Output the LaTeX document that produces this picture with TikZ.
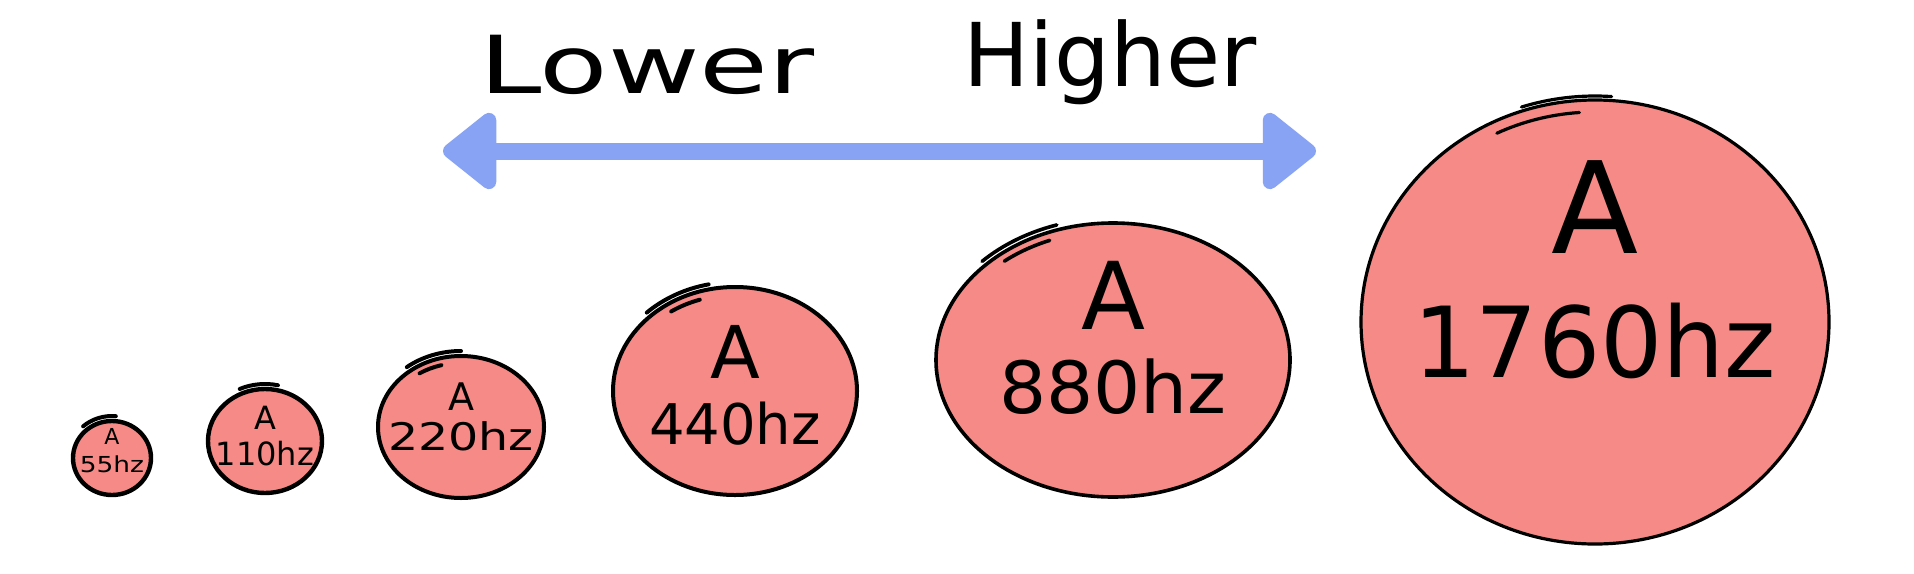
\documentclass[tikz,border=0pt]{standalone}
\usepackage{fontspec}
\usepackage{tikz}
\usetikzlibrary{arrows.meta,positioning,shapes.geometric,calc}
\newfontfamily\hand{DejaVu Sans}
\definecolor{NoteRed}{HTML}{F58A86}
\definecolor{NoteBlue}{HTML}{88A2F4}
\newcommand{\bigA}{\scalebox{1.3}{A}}
\newcommand{\wide}[2]{\scalebox{#1}[1]{#2}}

\begin{document}
\begin{tikzpicture}[
    x=0.5pt,y=-0.5pt,
    note/.style 2 args={ellipse,draw=black,fill=NoteRed,line width=2pt,minimum width=#1,minimum height=#2,inner sep=0pt},
    tag/.style 2 args={align=center,inner sep=0pt,font=\hand\fontsize{#1}{#2}\selectfont},
    tail/.style={line width=2pt,line cap=round},
    head/.style={font=\hand\fontsize{#1}{#1}\selectfont,anchor=base},
    arr/.style={{Triangle[round,length=29pt,width=44pt]}-{Triangle[round,length=29pt,width=44pt]},line width=8.5pt,NoteBlue}
  ]
  \fill[white] (0,0) rectangle (1914,573);
  \useasboundingbox (0,0) rectangle (1914,573);

  % pitch direction
  \node[head=40pt] (lower) at (647,93) {\wide{1.4}{Lower}};
  \node[head=44pt] (higher) at (1110,86) {Higher};
  \coordinate (lo) at (443,151);
  \coordinate (hi) at (1316,151);
  \draw[arr] (lo) -- (hi);

  % the six notes
  \node[note={39pt}{37pt},line width=2.2pt] (e55) at (112,458) {};
  \node[note={57pt}{52pt},line width=2.2pt] (e110) at (265,441) {};
  \node[note={83pt}{71pt}] (e220) at (461,427) {};
  \node[note={122pt}{104pt}] (e440) at (735,391) {};
  \node[note={177pt}{137pt},line width=1.8pt] (e880) at (1113,360) {};
  \node[note={234pt}{222pt},line width=1.6pt] (e1760) at (1595,322) {};

  % pen overshoots
  \draw[tail] ([shift={(229:44 and 42)}]e55.center) arc[start angle=229,end angle=275,x radius=44,y radius=42];
  \draw[tail] ([shift={(246:62 and 57)}]e110.center) arc[start angle=246,end angle=282,x radius=62,y radius=57];
  \draw[tail] ([shift={(232:88 and 76)}]e220.center) arc[start angle=232,end angle=270,x radius=88,y radius=76];
  \draw[tail] ([shift={(237:76 and 64)}]e220.center) arc[start angle=237,end angle=255,x radius=76,y radius=64];
  \draw[tail] ([shift={(226:127 and 109)}]e440.center) arc[start angle=226,end angle=258,x radius=127,y radius=109];
  \draw[tail] ([shift={(236:114 and 96)}]e440.center) arc[start angle=236,end angle=252,x radius=114,y radius=96];
  \draw[tail,line width=1.8pt] ([shift={(224:182 and 142)}]e880.center) arc[start angle=224,end angle=252,x radius=182,y radius=142];
  \draw[tail,line width=1.8pt] ([shift={(230:169 and 129)}]e880.center) arc[start angle=230,end angle=248,x radius=169,y radius=129];
  \draw[tail,line width=1.6pt] ([shift={(252:238 and 226)}]e1760.center) arc[start angle=252,end angle=274,x radius=238,y radius=226];
  \draw[tail,line width=1.6pt] ([shift={(244:224 and 210)}]e1760.center) arc[start angle=244,end angle=266,x radius=224,y radius=210];

  % labels
  \node[tag={11pt}{14pt}] (t55) at ([yshift=3.5pt]e55.center) {A\\\wide{1.2}{55hz}};
  \node[tag={16pt}{18pt}] (t110) at ([yshift=2.5pt]e110.center) {A\\110hz};
  \node[tag={19pt}{20pt}] (t220) at ([yshift=5pt]e220.center) {A\\\wide{1.25}{220hz}};
  \node[tag={28pt}{33pt}] (t440) at ([yshift=3pt]e440.center) {\bigA\\440hz};
  \node[tag={36pt}{42pt}] (t880) at ([yshift=11pt]e880.center) {\bigA\\\wide{1.03}{880hz}};
  \node[tag={49pt}{62pt}] (t1760) at ([yshift=26pt]e1760.center) {\bigA\\1760hz};
\end{tikzpicture}
\end{document}
